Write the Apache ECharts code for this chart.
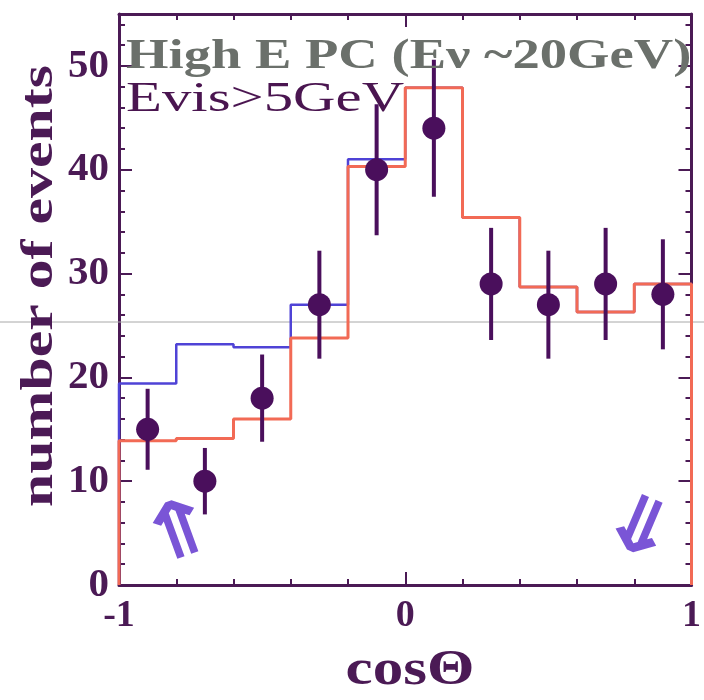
<!DOCTYPE html>
<html>
<head>
<meta charset="utf-8">
<script src="https://cdn.jsdelivr.net/npm/echarts@6/dist/echarts.min.js"></script>
<style>
  html, body { margin: 0; padding: 0; background: #fff; }
  #main { width: 704px; height: 700px; }
</style>
</head>
<body>
<div id="main"></div>
<script>
// bin edges in cos(theta)
var binEdges = [-1, -0.8, -0.6, -0.4, -0.2, 0, 0.2, 0.4, 0.6, 0.8, 1];
// MC with oscillation (red) and without (blue)
var oscMC   = [13.9, 14.1, 16.0, 23.8, 40.3, 47.9, 35.4, 28.7, 26.3, 29.0];
var noOscMC = [19.4, 23.2, 22.9, 27.0, 41.0, 47.9, 35.4, 28.7, 26.3, 29.0];
// data points
var dataX   = [-0.9, -0.7, -0.5, -0.3, -0.1, 0.1, 0.3, 0.5, 0.7, 0.9];
var dataY   = [15, 10, 18, 27, 40, 44, 29, 27, 29, 28];
var dataErr = [3.9, 3.2, 4.2, 5.2, 6.3, 6.6, 5.4, 5.2, 5.4, 5.3];
var yTicks  = [0, 10, 20, 30, 40, 50];

var serif = '"Liberation Serif", "DejaVu Serif", serif';
var axisCol = '#4b1a55';

function stepPoints(vals) {
    var pts = [[binEdges[0], 0]];
    for (var i = 0; i < vals.length; i++) {
        pts.push([binEdges[i], vals[i]]);
        pts.push([binEdges[i + 1], vals[i]]);
    }
    pts.push([binEdges[binEdges.length - 1], 0]);
    return pts;
}

var errData = [];
for (var i = 0; i < dataX.length; i++) {
    errData.push([dataX[i], dataY[i] - dataErr[i], dataY[i] + dataErr[i]]);
}
var pointData = dataX.map(function (x, i) { return [x, dataY[i]]; });

// frame axes share the same look
function frameAxis(extra) {
    var ax = {
        type: 'value',
        axisLine: { onZero: false, lineStyle: { color: axisCol, width: 3 } },
        axisTick: { inside: true, length: 13, lineStyle: { color: axisCol, width: 2 } },
        minorTick: { show: true, splitNumber: 5, length: 6, lineStyle: { color: axisCol, width: 2 } },
        splitLine: { show: false },
        axisLabel: { show: false }
    };
    for (var k in extra) ax[k] = extra[k];
    return ax;
}

var chart = echarts.init(document.getElementById('main'));
var option = {
    backgroundColor: '#fff',
    animation: false,
    grid: { left: 119, right: 9, top: 14, bottom: 115 },
    xAxis: [
        frameAxis({
            min: -1, max: 1, interval: 1, position: 'bottom',
            axisLabel: { fontFamily: serif, fontWeight: 'bold', fontSize: 38, color: axisCol, margin: 12 }
        }),
        frameAxis({ min: -1, max: 1, interval: 1, position: 'top' })
    ],
    yAxis: [
        frameAxis({
            min: 0, max: 55, interval: 10, position: 'left',
            axisLabel: {
                fontFamily: serif, fontWeight: 'bold', fontSize: 41, color: axisCol, margin: 10,
                formatter: function (v) { return yTicks.indexOf(v) >= 0 ? String(v) : ''; }
            }
        }),
        frameAxis({ min: 0, max: 55, interval: 10, position: 'right' })
    ],
    series: [
        {
            type: 'line', data: stepPoints(noOscMC), symbol: 'none', clip: false,
            lineStyle: { color: '#4f43d6', width: 2.5 }, z: 3
        },
        {
            type: 'line', data: stepPoints(oscMC), symbol: 'none', clip: false,
            lineStyle: { color: '#f26a55', width: 3 }, z: 4
        },
        {
            type: 'custom', z: 5,
            renderItem: function (params, api) {
                var top = api.coord([api.value(0), api.value(2)]);
                var bot = api.coord([api.value(0), api.value(1)]);
                return {
                    type: 'line',
                    shape: { x1: top[0], y1: top[1], x2: bot[0], y2: bot[1] },
                    style: { stroke: '#4a0f5c', lineWidth: 4 }
                };
            },
            data: errData
        },
        {
            type: 'scatter', data: pointData, symbol: 'circle', symbolSize: 23, z: 6,
            itemStyle: { color: '#4a0f5c', opacity: 1 }
        }
    ],
    graphic: [
        {
            type: 'text', x: 126, y: 36, scaleX: 1.3, z: 10,
            style: { text: 'High E PC (Eν ~20GeV)', fontFamily: serif, fontWeight: 'bold', fontSize: 42, fill: '#6b706b' }
        },
        {
            type: 'text', x: 126, y: 79, scaleX: 1.4, z: 10,
            style: { text: 'Evis>5GeV', fontFamily: serif, fontSize: 42, fill: '#4a1550' }
        },
        {
            type: 'text', x: 40, y: 286, rotation: Math.PI / 2, scaleX: 1.3, z: 10,
            style: { text: 'number of events', fontFamily: serif, fontWeight: 'bold', fontSize: 46, fill: axisCol, align: 'center', verticalAlign: 'middle' }
        },
        {
            type: 'text', x: 410, y: 671, scaleX: 1.22, z: 10,
            style: { text: 'cosΘ', fontFamily: serif, fontWeight: 'bold', fontSize: 50, fill: axisCol, align: 'center', verticalAlign: 'middle' }
        },
        {
            type: 'text', x: 181, y: 536, rotation: 0.35, scaleX: 1.25, z: 10,
            style: { text: '⇑', fontFamily: '"DejaVu Sans"', fontWeight: 'bold', fontSize: 78, fill: '#7a55d6', align: 'center', verticalAlign: 'middle' }
        },
        {
            type: 'text', x: 638, y: 532, rotation: -0.4, scaleX: 1.25, z: 10,
            style: { text: '⇓', fontFamily: '"DejaVu Sans"', fontWeight: 'bold', fontSize: 78, fill: '#7a55d6', align: 'center', verticalAlign: 'middle' }
        },
        {
            type: 'line', z: 1,
            shape: { x1: 0, y1: 322, x2: 704, y2: 322 },
            style: { stroke: '#a8a8a8', lineWidth: 1 }
        }
    ]
};
chart.setOption(option);
</script>
</body>
</html>
